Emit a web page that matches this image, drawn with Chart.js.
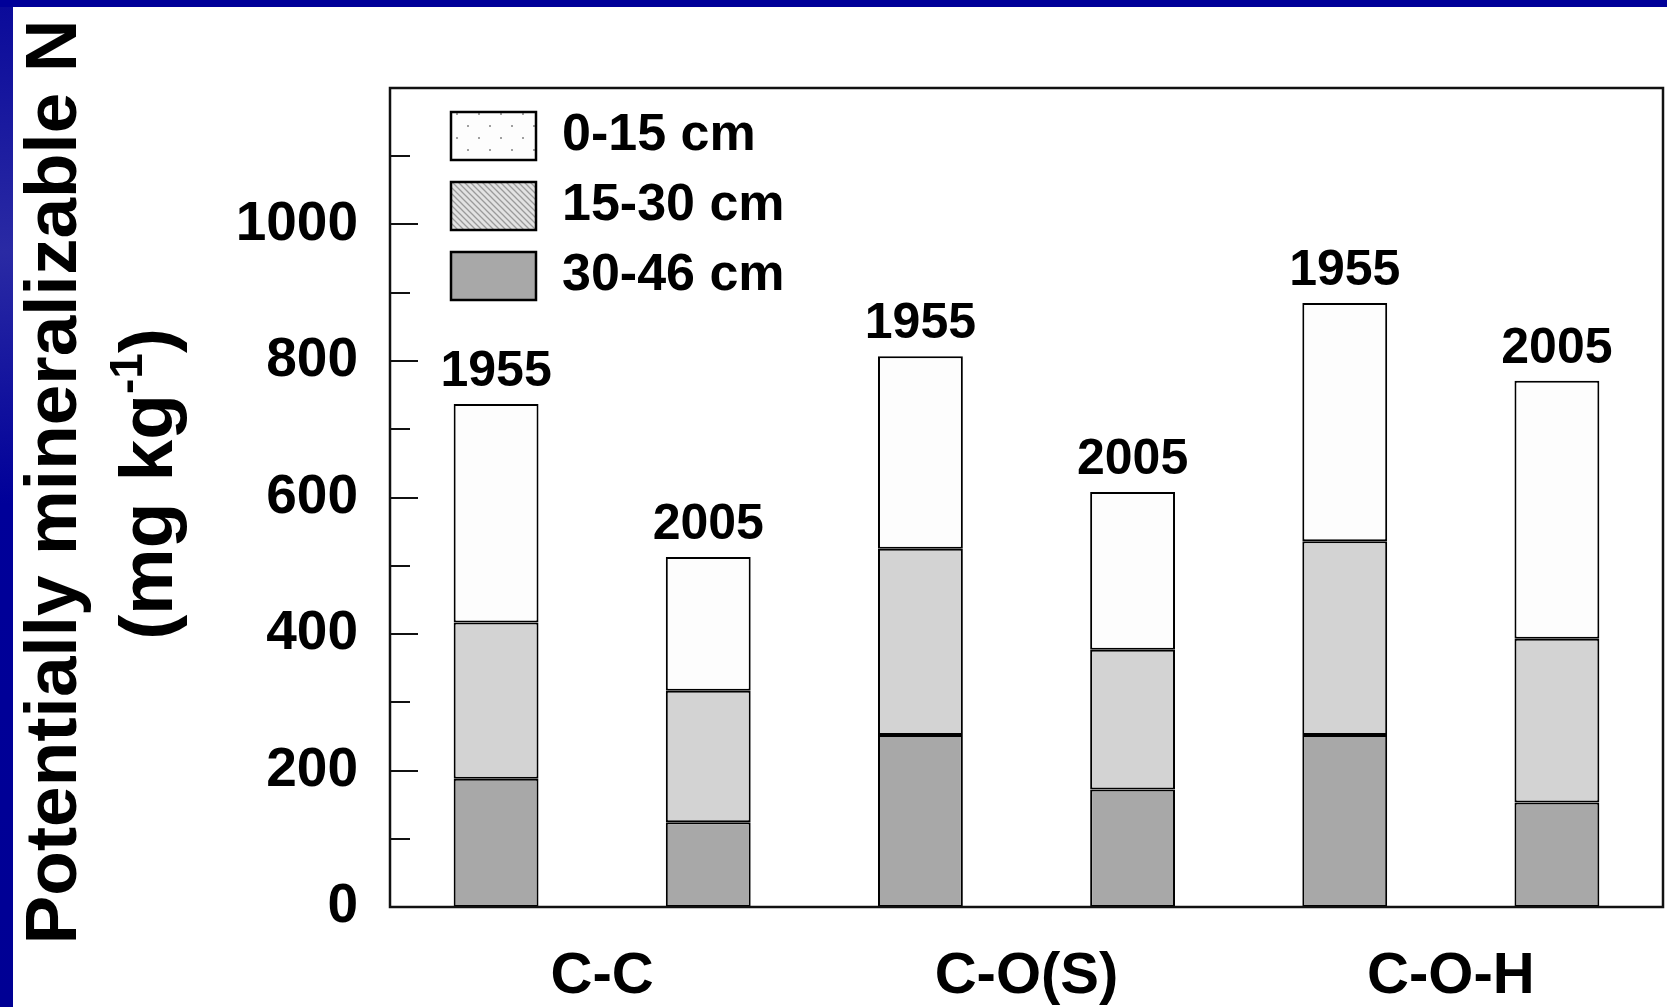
<!DOCTYPE html>
<html>
<head>
<meta charset="utf-8">
<script src="https://cdn.jsdelivr.net/npm/chart.js@4.4.0/dist/chart.umd.min.js"></script>
<style>
  html, body { margin: 0; padding: 0; background: #000099; }
  #wrap { position: relative; width: 1667px; height: 1007px; }
</style>
</head>
<body>
<div id="wrap"><canvas id="myChart"></canvas></div>
<script>
// data (mg kg-1)
const categories = ['C-C', 'C-O(S)', 'C-O-H'];
const years = ['1955', '2005', '1955', '2005', '1955', '2005'];
const seriesNames = ['30-46 cm', '15-30 cm', '0-15 cm'];
const depth30to46 = [188, 124, 252, 172, 252, 153];
const depth15to30 = [229, 193, 273, 205, 284, 240];
const depth0to15 = [320, 196, 282, 231, 349, 378];
const yTickLabels = [0, 200, 400, 600, 800, 1000];
const yMinorTicks = [100, 300, 500, 700, 900, 1100];

const FONT = "'Liberation Sans', Arial, sans-serif";
Chart.defaults.font.family = FONT;
Chart.defaults.color = '#000';

const barLabels = years.map((y, i) => categories[Math.floor(i / 2)] + ' ' + y);

// legend swatch fills (dots / hatch like the original)
function dotPattern() {
  const c = document.createElement('canvas');
  c.width = 22; c.height = 24;
  const g = c.getContext('2d');
  g.fillStyle = '#fdfdfd';
  g.fillRect(0, 0, 22, 24);
  g.fillStyle = '#a0a0a0';
  g.fillRect(5, 5, 2, 2);
  g.fillRect(16, 17, 2, 2);
  return g.createPattern(c, 'repeat');
}
function hatchPattern() {
  const c = document.createElement('canvas');
  c.width = 6; c.height = 6;
  const g = c.getContext('2d');
  g.fillStyle = '#e2e2e2';
  g.fillRect(0, 0, 6, 6);
  g.strokeStyle = '#9a9a9a';
  g.lineWidth = 1.3;
  g.beginPath();
  g.moveTo(-1, -1); g.lineTo(7, 7);
  g.moveTo(-1, 5); g.lineTo(1, 7);
  g.moveTo(5, -1); g.lineTo(7, 1);
  g.stroke();
  return g.createPattern(c, 'repeat');
}
const legendFills = ['#a8a8a8', hatchPattern(), dotPattern()];

const framePlugin = {
  id: 'frame',
  beforeDraw(chart) {
    const ctx = chart.ctx;
    ctx.save();
    const grad = ctx.createLinearGradient(0, 0, 0, chart.height);
    grad.addColorStop(0, '#0a0a9a');
    grad.addColorStop(0.25, '#2a2aa4');
    grad.addColorStop(0.5, '#000099');
    grad.addColorStop(1, '#000094');
    ctx.fillStyle = grad;
    ctx.fillRect(0, 0, chart.width, chart.height);
    ctx.fillStyle = '#000099';
    ctx.fillRect(0, 0, chart.width, 7);
    ctx.fillStyle = '#ffffff';
    ctx.fillRect(13, 7, chart.width - 13, chart.height - 7);
    ctx.restore();
  },
  afterLayout(chart) {
    // move the legend into the top-left corner of the plot
    chart.legend.left = chart.chartArea.left + 43;
    chart.legend.top = chart.chartArea.top + 4;
  },
  afterDatasetsDraw(chart) {
    const ctx = chart.ctx;
    const a = chart.chartArea;
    const y = chart.scales.y;
    ctx.save();
    // year labels above each bar
    ctx.font = 'bold 50px ' + FONT;
    ctx.fillStyle = '#000';
    ctx.textAlign = 'center';
    ctx.textBaseline = 'alphabetic';
    chart.getDatasetMeta(2).data.forEach((bar, i) => {
      ctx.fillText(years[i], bar.x, bar.y - 18);
    });
    // box around plot
    ctx.strokeStyle = '#111';
    ctx.lineWidth = 2.5;
    ctx.strokeRect(a.left, a.top, a.right - a.left, a.bottom - a.top);
    // inward ticks
    ctx.lineWidth = 2;
    ctx.beginPath();
    yTickLabels.concat(yMinorTicks).forEach(v => {
      const len = yTickLabels.includes(v) ? 28 : 20;
      const py = Math.round(y.getPixelForValue(v));
      ctx.moveTo(a.left, py);
      ctx.lineTo(a.left + len, py);
    });
    ctx.stroke();
    ctx.restore();
  },
  afterDraw(chart) {
    const ctx = chart.ctx;
    ctx.save();
    ctx.fillStyle = '#000';
    ctx.textBaseline = 'alphabetic';
    // first line of the axis title
    ctx.translate(76, 482);
    ctx.rotate(-Math.PI / 2);
    ctx.font = 'bold 73px ' + FONT;
    ctx.textAlign = 'center';
    ctx.fillText('Potentially mineralizable N', 0, 0);
    ctx.restore();
    // second line with superscript
    ctx.save();
    ctx.fillStyle = '#000';
    ctx.translate(172, 484);
    ctx.rotate(-Math.PI / 2);
    const big = 'bold 75px ' + FONT, small = 'bold 46px ' + FONT;
    ctx.font = big;
    const w1 = ctx.measureText('(mg kg').width;
    const w3 = ctx.measureText(')').width;
    ctx.font = small;
    const w2 = ctx.measureText('-1').width;
    let x = -(w1 + w2 + w3) / 2;
    ctx.textAlign = 'left';
    ctx.font = big;
    ctx.fillText('(mg kg', x, 0);
    x += w1;
    ctx.font = small;
    ctx.fillText('-1', x, -30);
    x += w2;
    ctx.font = big;
    ctx.fillText(')', x, 0);
    ctx.restore();
  }
};

const ctx = document.getElementById('myChart').getContext('2d');
const chart = new Chart(ctx, {
  type: 'bar',
  data: {
    labels: barLabels,
    datasets: [
      { label: seriesNames[0], data: depth30to46, backgroundColor: '#a8a8a8' },
      { label: seriesNames[1], data: depth15to30, backgroundColor: '#d3d3d3' },
      { label: seriesNames[2], data: depth0to15, backgroundColor: '#fdfdfd' }
    ].map(d => Object.assign(d, {
      borderColor: '#000', borderWidth: 2, borderSkipped: false,
      barPercentage: 0.4, categoryPercentage: 1
    }))
  },
  options: {
    responsive: true,
    maintainAspectRatio: false,
    animation: false,
    layout: { padding: { top: 88, right: 4, left: 0, bottom: 0 } },
    plugins: {
      tooltip: { enabled: false },
      legend: {
        position: 'chartArea',
        align: 'start',
        reverse: true,
        labels: {
          boxWidth: 85,
          boxHeight: 48,
          padding: 18,
          color: '#000',
          font: { size: 52, weight: 'bold' },
          generateLabels(chart) {
            const items = Chart.defaults.plugins.legend.labels.generateLabels(chart);
            items.forEach(it => { it.fillStyle = legendFills[it.datasetIndex]; it.lineWidth = 2.5; });
            return items;
          }
        }
      }
    },
    scales: {
      x: {
        stacked: true,
        display: false
      },
      x2: {
        type: 'category',
        labels: categories,
        position: 'bottom',
        offset: true,
        grid: { display: false, drawTicks: false },
        border: { display: false },
        ticks: { padding: 35, font: { size: 58, weight: 'bold' }, color: '#000' },
        afterFit(scale) { scale.height = 100; }
      },
      y: {
        stacked: true,
        min: 0,
        max: 1200,
        grid: { display: false, drawTicks: false },
        border: { display: false },
        ticks: {
          stepSize: 200,
          padding: 32,
          color: '#000',
          font: { size: 55, weight: 'bold' },
          callback: v => (yTickLabels.includes(v) ? v : '')
        },
        afterFit(scale) { scale.width = 390; }
      }
    }
  },
  plugins: [framePlugin]
});
</script>
</body>
</html>
